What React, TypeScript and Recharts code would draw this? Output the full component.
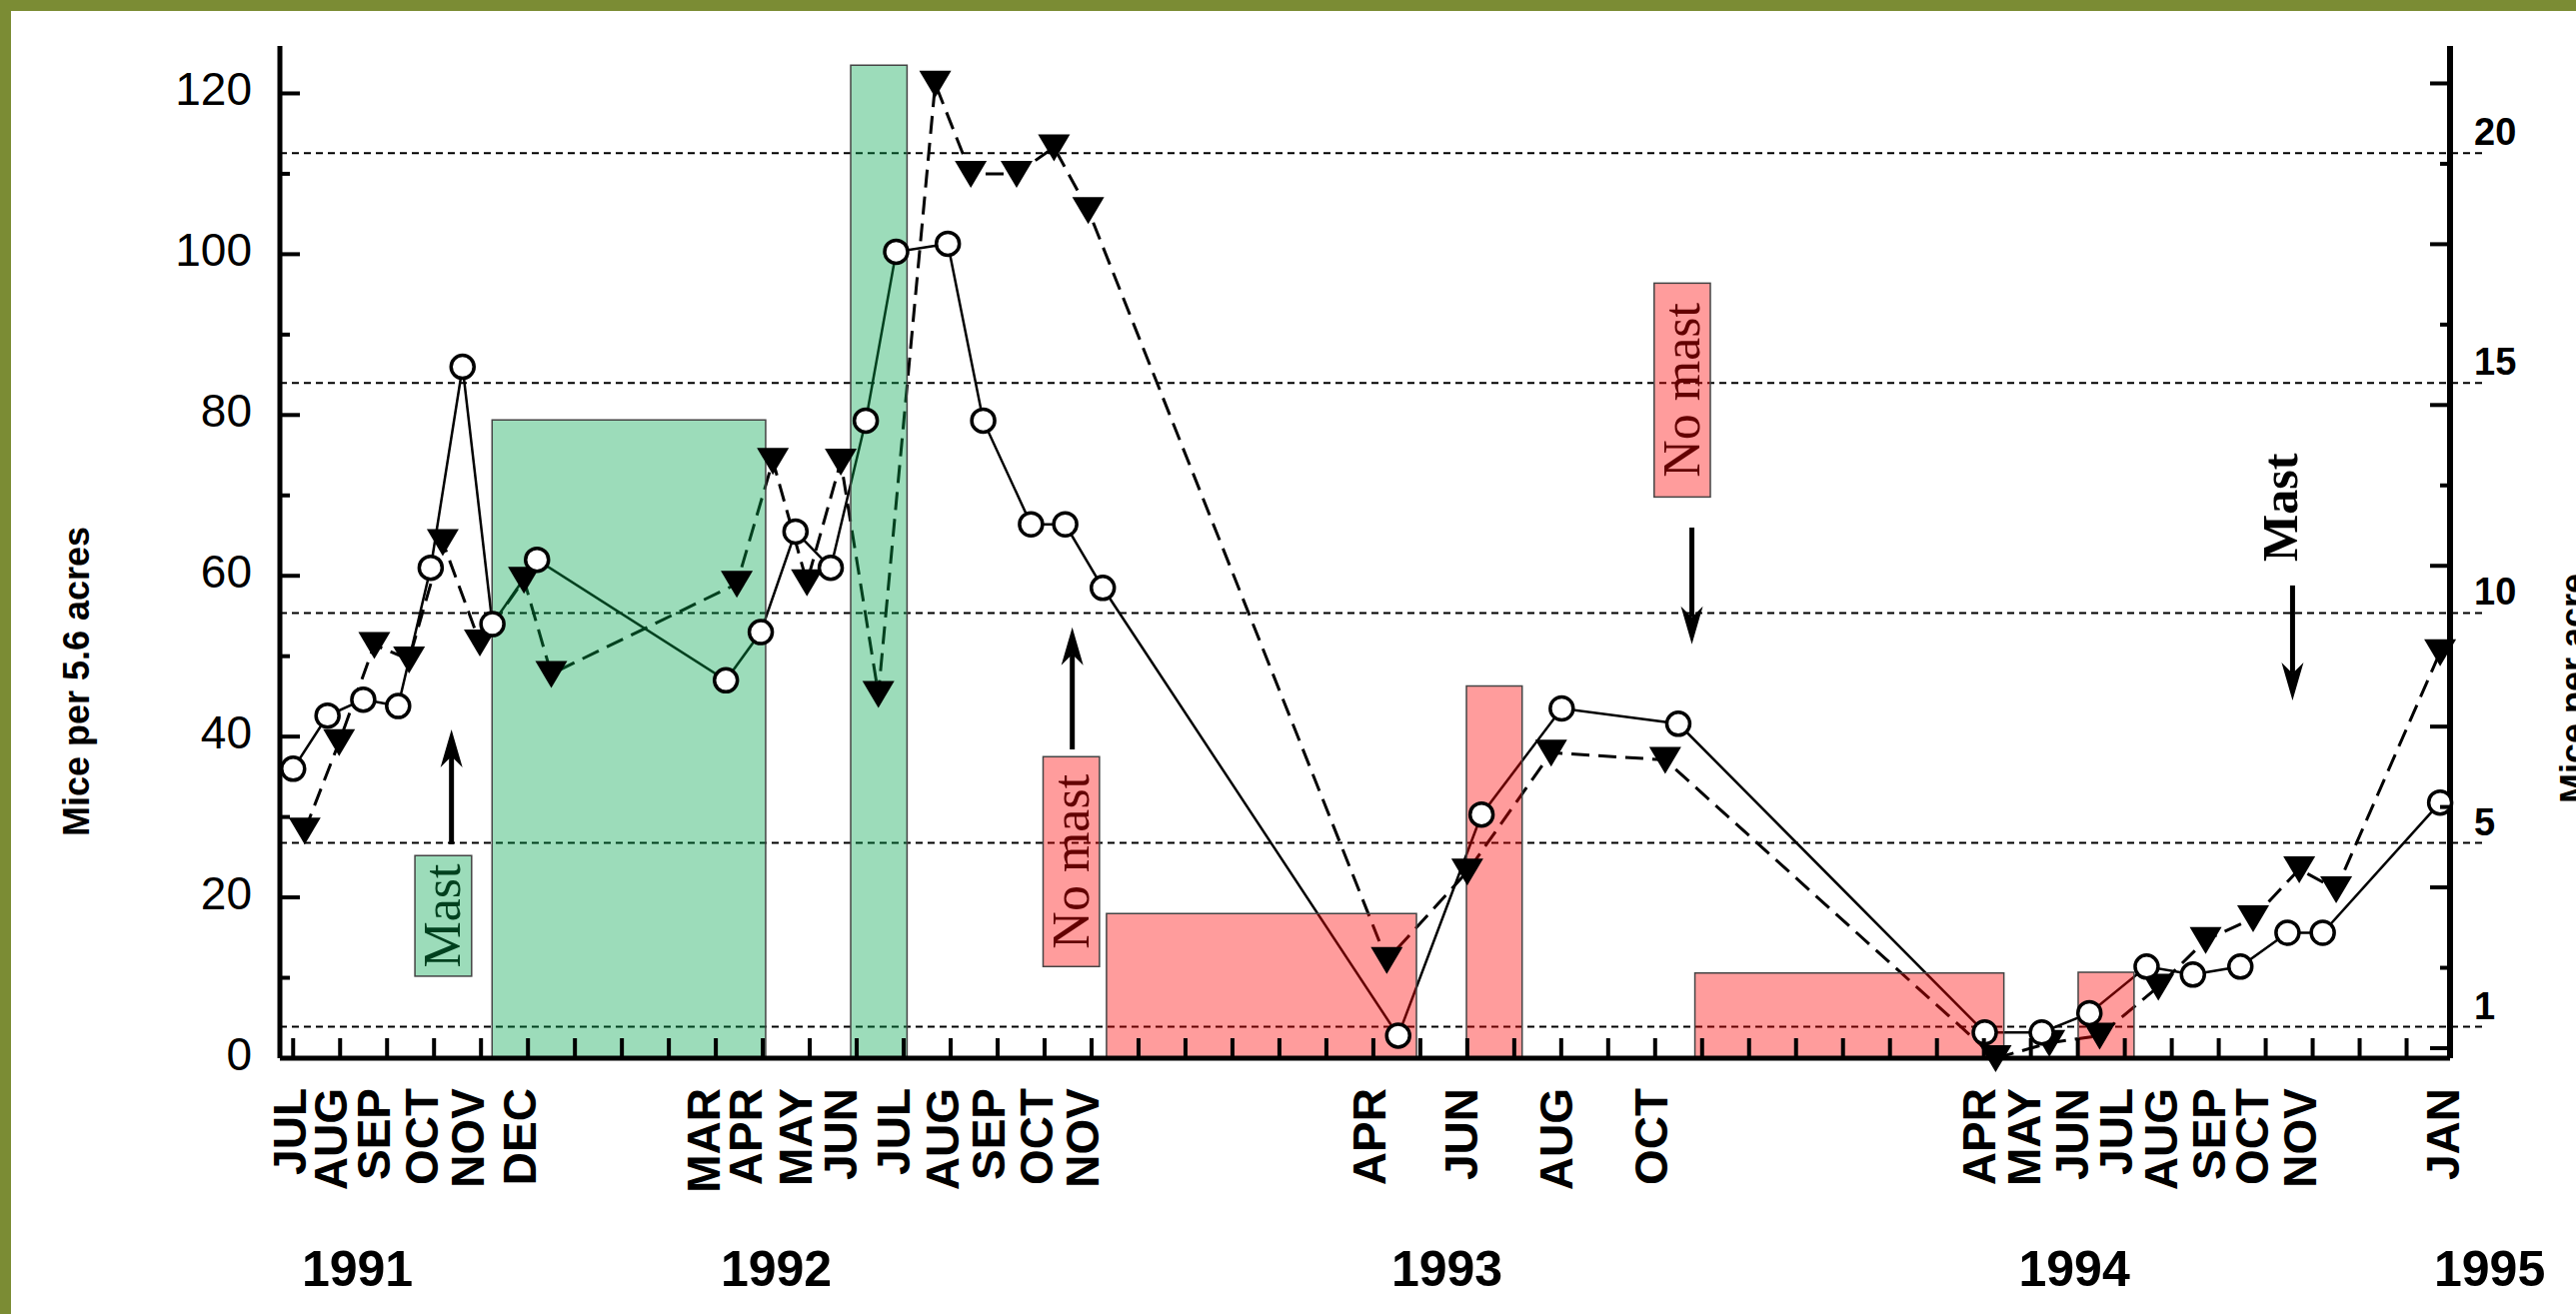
import React from "react";
import {
  Line,
  LineChart,
  ReferenceArea,
  ReferenceDot,
  ReferenceLine,
  XAxis,
  YAxis,
} from "recharts";

// days counted from the first trapping session (JUL 1991)
const circleDays = [
  0, 20.5, 41.8, 62.6, 82, 101, 118.8, 145.4, 258, 278.8, 299.5, 320.5, 341.4, 359.5, 390.3, 411.4,
  439.9, 460.3, 482.7, 658.8, 708.5, 756.3, 825.8, 1008.5, 1042.5, 1070.9, 1105, 1132.6, 1160.9,
  1189, 1210, 1280,
];
const circleMice = [
  36, 42.6, 44.6, 43.8, 61, 86, 54, 62, 47, 53, 65.5, 61, 79.3, 100.3, 101.3, 79.3, 66.4, 66.4, 58.5,
  2.8, 30.3, 43.5, 41.6, 3.2, 3.2, 5.6, 11.4, 10.4, 11.4, 15.6, 15.6, 31.8,
];

const triangleDays = [
  6.9, 27.4, 48.4, 69.1, 89.2, 111.3, 137.6, 153.9, 264.5, 286, 306.3, 326.5, 348.9, 382.8, 404, 431.3,
  453.6, 474, 652, 700, 750, 818, 1015, 1047, 1077, 1112, 1140.2, 1168.5, 1196, 1218, 1280,
];
const triangleMice = [
  28.3, 39.3, 51.4, 49.6, 64.2, 51.7, 59.5, 47.8, 59, 74.3, 59.2, 74.2, 45.3, 121.2, 110, 110, 113.3,
  105.5, 12.2, 23.2, 38, 37.1, 0, 1.9, 2.8, 8.9, 14.7, 17.4, 23.5, 21, 50.5,
];

// four-week tick marks along the bottom axis
const weekTicks = [
  0, 28, 56, 84, 112, 140, 168, 196, 224, 252, 280, 308, 336, 364, 392, 420, 448, 476, 504, 532, 560,
  588, 616, 644, 672, 700, 728, 756, 784, 812, 840, 868, 896, 924, 952, 980, 1008, 1036, 1064, 1092,
  1120, 1148, 1176, 1204, 1232, 1260,
];

const monthLabels = [
  "JUL", "AUG", "SEP", "OCT", "NOV", "DEC", "MAR", "APR", "MAY", "JUN", "JUL", "AUG", "SEP", "OCT",
  "NOV", "APR", "JUN", "AUG", "OCT", "APR", "MAY", "JUN", "JUL", "AUG", "SEP", "OCT", "NOV", "JAN",
];
const monthDays = [
  -2, 22.2, 47.9, 77, 104.4, 135.2, 244.5, 270, 299.4, 326.2, 358.3, 387, 414.4, 443.3, 470.7, 641.7,
  696.3, 753, 809.5, 1005.2, 1031.8, 1060.4, 1086.9, 1113.4, 1142, 1168.2, 1196.8, 1281.8,
];

const yearLabels = ["1991", "1992", "1993", "1994", "1995"];
const yearDays = [38.3, 288, 687.9, 1061.9, 1309.5];

const leftTicks = [0, 10, 20, 30, 40, 50, 60, 70, 80, 90, 100, 110, 120];
const acreTicks = [20, 15, 10, 5, 1];

// shaded mast / no-mast periods
const shadeFrom = [118.6, 332.4, 484.9, 699.5, 835.7, 1064.2];
const shadeTo = [281.7, 366, 669.7, 732.7, 1019.9, 1097.5];
const shadeTop = [79.4, 123.5, 18, 46.3, 10.6, 10.7];
const shadeKind = ["mast", "mast", "none", "none", "none", "none"];

// boxed notes
const noteText = ["Mast", "No mast", "No mast"];
const noteFrom = [72.6, 447.1, 811.4];
const noteTo = [106.4, 480.7, 844.9];
const noteLow = [10.2, 11.4, 69.8];
const noteHigh = [25.2, 37.5, 96.4];
const noteKind = ["mast", "none", "none"];

const arrowDay = [94.4, 464.5, 833.9, 1192];
const arrowFrom = [26.6, 38.4, 66, 58.8];
const arrowTo = [40.9, 53.6, 51.5, 44.5];

const W = 2577;
const H = 1315;
const PLOT_TOP = 46;
const PLOT_BOTTOM = 1059;
const PLOT_RIGHT = 2451;
const X_DOMAIN: [number, number] = [-7.9, 1285.9];
const GREEN = "#7b8c34";
const SANS = "'Liberation Sans', Arial, Helvetica, sans-serif";
const SERIF = "'Liberation Serif', 'Times New Roman', serif";
const FILL = { mast: "#00a44d", none: "#ff0000" } as Record<string, string>;

const circleData = circleDays.map((day, i) => ({ day, mice: circleMice[i] }));
const triangleData = triangleDays.map((day, i) => ({ day, mice: triangleMice[i] }));

function LeftTick(props: any) {
  const { x, y, payload } = props;
  const v = payload.value as number;
  const major = v % 20 === 0;
  const len = major ? 20 : 10;
  return (
    <g>
      <line x1={x} x2={x + len} y1={y} y2={y} stroke="#000" strokeWidth={4} />
      <line x1={PLOT_RIGHT - len} x2={PLOT_RIGHT} y1={y - 10} y2={y - 10} stroke="#000" strokeWidth={4} />
      {major && (
        <text x={x - 28} y={y - 4} textAnchor="end" dominantBaseline="central" fontFamily={SANS} fontSize={46} fill="#000">
          {v}
        </text>
      )}
    </g>
  );
}

function AcreTick(props: any) {
  const { x, y, payload } = props;
  return (
    <text x={x + 24} y={y - 21} dominantBaseline="central" fontFamily={SANS} fontWeight="bold" fontSize={38} fill="#000">
      {payload.value}
    </text>
  );
}

function WeekTick(props: any) {
  const { x, y } = props;
  return <line x1={x} x2={x} y1={y} y2={y - 20} stroke="#000" strokeWidth={4} />;
}

function monthShape(label: string) {
  return (props: any) => (
    <text
      transform={`translate(${props.cx + 16},${props.cy + 30}) rotate(-90)`}
      textAnchor="end"
      fontFamily={SANS}
      fontWeight="bold"
      fontSize={46}
      fill="#000"
    >
      {label}
    </text>
  );
}

function yearShape(label: string) {
  return (props: any) => (
    <text x={props.cx} y={props.cy + 228} textAnchor="middle" fontFamily={SANS} fontWeight="bold" fontSize={50} fill="#000">
      {label}
    </text>
  );
}

function CircleDot(props: any) {
  const { cx, cy, index } = props;
  return <circle key={`c${index}`} cx={cx} cy={cy} r={11.5} fill="#fff" stroke="#000" strokeWidth={3.5} />;
}

function TriangleDot(props: any) {
  const { cx, cy, index } = props;
  return (
    <path key={`t${index}`} d={`M${cx - 16},${cy - 13}L${cx + 16},${cy - 13}L${cx},${cy + 14}Z`} fill="#000" />
  );
}

function ArrowShape(props: any) {
  const { x1, y1, x2, y2 } = props;
  const dx = x2 - x1;
  const dy = y2 - y1;
  const len = Math.hypot(dx, dy) || 1;
  const ux = dx / len;
  const uy = dy / len;
  const px = -uy;
  const py = ux;
  const head = 38;
  const half = 11;
  const notch = 11;
  const bx = x2 - ux * head;
  const by = y2 - uy * head;
  const nx = x2 - ux * (head - notch);
  const ny = y2 - uy * (head - notch);
  return (
    <g>
      <line x1={x1} y1={y1} x2={nx} y2={ny} stroke="#000" strokeWidth={5} />
      <path
        d={`M${x2},${y2}L${bx + px * half},${by + py * half}L${nx},${ny}L${bx - px * half},${by - py * half}Z`}
        fill="#000"
      />
    </g>
  );
}

function noteShape(text: string, kind: string) {
  return (props: any) => {
    const { x, y, width, height } = props;
    const cx = x + width / 2;
    const cy = y + height / 2;
    return (
      <g>
        <text
          transform={`translate(${cx + 17},${cy}) rotate(-90)`}
          textAnchor="middle"
          fontFamily={SERIF}
          fontSize={52}
          fill="#000"
        >
          {text}
        </text>
        <rect x={x} y={y} width={width} height={height} fill={FILL[kind]} fillOpacity={0.39} stroke="#444" strokeWidth={1.5} />
      </g>
    );
  };
}

function MastText(props: any) {
  const { cx, cy } = props;
  return (
    <text
      transform={`translate(${cx + 17},${cy}) rotate(-90)`}
      textAnchor="middle"
      fontFamily={SERIF}
      fontWeight="bold"
      fontSize={50}
      fill="#000"
    >
      Mast
    </text>
  );
}

export default function App() {
  return (
    <div style={{ position: "absolute", left: 0, top: 0, width: W, height: H, background: "#fff", overflow: "hidden" }}>
      <div style={{ position: "absolute", left: 0, top: 0, width: 11, height: H, background: GREEN }} />
      <div style={{ position: "absolute", left: 0, top: 0, width: W, height: 11, background: GREEN }} />
      <div style={{ position: "absolute", left: 0, top: 0 }}>
        <LineChart width={W} height={H} margin={{ top: PLOT_TOP, right: 0, bottom: H - PLOT_BOTTOM - 1, left: 0 }}>
          <XAxis
            xAxisId="days"
            dataKey="day"
            type="number"
            domain={X_DOMAIN}
            ticks={weekTicks}
            interval={0}
            height={1}
            tickSize={0}
            tickMargin={0}
            tickLine={false}
            tick={<WeekTick />}
            axisLine={{ stroke: "#000", strokeWidth: 5 }}
          />
          <XAxis
            xAxisId="top"
            orientation="top"
            type="number"
            domain={X_DOMAIN}
            allowDataOverflow
            height={0}
            tick={false}
            tickLine={false}
            axisLine={{ stroke: "#000", strokeWidth: 5 }}
          />
          <YAxis
            yAxisId="left"
            type="number"
            domain={[0, 125.9]}
            ticks={leftTicks}
            interval={0}
            width={280}
            tickSize={0}
            tickMargin={0}
            tickLine={false}
            tick={<LeftTick />}
            axisLine={{ stroke: "#000", strokeWidth: 5 }}
            label={{
              content: () => (
                <text
                  transform="translate(89,682) rotate(-90)"
                  textAnchor="middle"
                  fontFamily={SANS}
                  fontWeight="bold"
                  fontSize={36}
                  fill="#000"
                >
                  Mice per 5.6 acres
                </text>
              ),
            }}
          />
          <YAxis
            yAxisId="right"
            orientation="right"
            type="number"
            domain={[0.318, 22.33]}
            allowDataOverflow
            ticks={acreTicks}
            interval={0}
            width={W - PLOT_RIGHT}
            tickSize={0}
            tickMargin={0}
            tickLine={false}
            tick={<AcreTick />}
            axisLine={{ stroke: "#000", strokeWidth: 6 }}
            label={{
              content: () => (
                <text
                  transform="translate(2587,689) rotate(-90)"
                  textAnchor="middle"
                  fontFamily={SANS}
                  fontWeight="bold"
                  fontSize={36}
                  fill="#000"
                >
                  Mice per acre
                </text>
              ),
            }}
          />

          {acreTicks.map((v) => (
            <ReferenceLine
              key={`h${v}`}
              xAxisId="days"
              yAxisId="right"
              segment={[
                { x: X_DOMAIN[0], y: v },
                { x: 1306, y: v },
              ]}
              stroke="#000"
              strokeWidth={2}
              strokeDasharray="7 5"
              ifOverflow="visible"
            />
          ))}

          <Line
            data={triangleData}
            dataKey="mice"
            xAxisId="days"
            yAxisId="left"
            type="linear"
            stroke="#000"
            strokeWidth={3}
            strokeDasharray="18 9"
            dot={TriangleDot}
            activeDot={false}
            isAnimationActive={false}
          />
          <Line
            data={circleData}
            dataKey="mice"
            xAxisId="days"
            yAxisId="left"
            type="linear"
            stroke="#000"
            strokeWidth={2.5}
            dot={CircleDot}
            activeDot={false}
            isAnimationActive={false}
          />

          {arrowDay.map((d, i) => (
            <ReferenceLine
              key={`a${i}`}
              xAxisId="days"
              yAxisId="left"
              segment={[
                { x: d, y: arrowFrom[i] },
                { x: d, y: arrowTo[i] },
              ]}
              shape={ArrowShape}
              ifOverflow="visible"
            />
          ))}

          <ReferenceDot xAxisId="days" yAxisId="left" x={1184.6} y={68.5} r={0} shape={MastText} ifOverflow="visible" />

          {monthDays.map((d, i) => (
            <ReferenceDot
              key={`m${i}`}
              xAxisId="days"
              yAxisId="left"
              x={d}
              y={0}
              r={0}
              shape={monthShape(monthLabels[i])}
              ifOverflow="visible"
            />
          ))}
          {yearDays.map((d, i) => (
            <ReferenceDot
              key={`y${i}`}
              xAxisId="days"
              yAxisId="left"
              x={d}
              y={0}
              r={0}
              shape={yearShape(yearLabels[i])}
              ifOverflow="visible"
            />
          ))}

          {shadeFrom.map((from, i) => (
            <ReferenceArea
              key={`s${i}`}
              xAxisId="days"
              yAxisId="left"
              x1={from}
              x2={shadeTo[i]}
              y1={0}
              y2={shadeTop[i]}
              fill={FILL[shadeKind[i]]}
              fillOpacity={0.39}
              stroke="#444"
              strokeWidth={1.5}
              ifOverflow="visible"
              zIndex={450}
            />
          ))}
          {noteText.map((text, i) => (
            <ReferenceArea
              key={`n${i}`}
              xAxisId="days"
              yAxisId="left"
              x1={noteFrom[i]}
              x2={noteTo[i]}
              y1={noteLow[i]}
              y2={noteHigh[i]}
              shape={noteShape(text, noteKind[i])}
              ifOverflow="visible"
              zIndex={450}
            />
          ))}
        </LineChart>
      </div>
    </div>
  );
}
